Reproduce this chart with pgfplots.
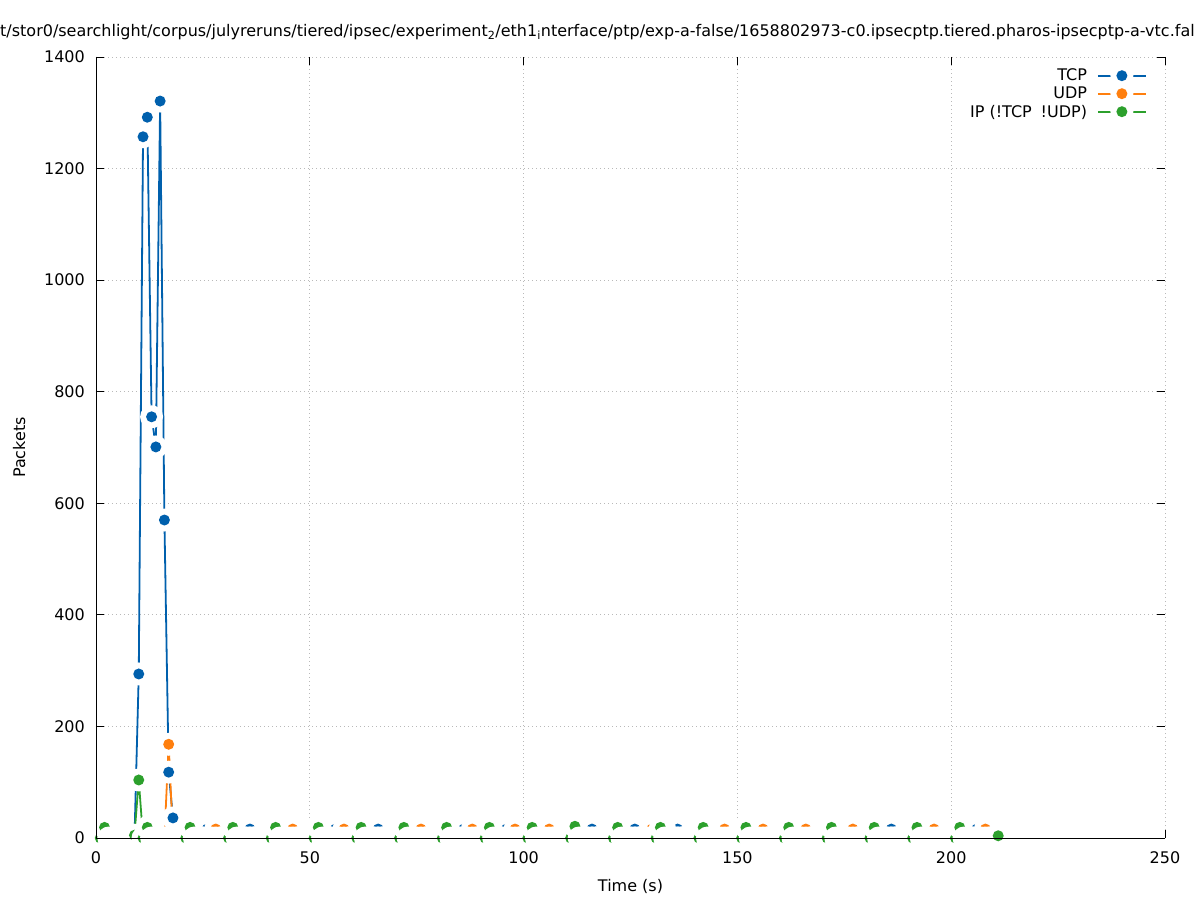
\documentclass[border=0pt]{standalone}
\usepackage{fontspec}
\setmainfont{DejaVu Sans}
\usepackage{pgfplots}
\usepackage{pgfplotstable}
\pgfplotsset{compat=1.18}
\definecolor{cTCP}{HTML}{0060AD}
\definecolor{cUDP}{HTML}{FF7F0E}
\definecolor{cIP}{HTML}{2CA02C}
\newcommand\fsz{\fontsize{16bp}{19bp}\selectfont}
\pgfdeclareplotmark{haloTCP}{\pgfsetfillcolor{white}\pgfpathcircle{\pgfpointorigin}{11.5bp}\pgfusepath{fill}\pgfsetfillcolor{cTCP}\pgfpathcircle{\pgfpointorigin}{5.5bp}\pgfusepath{fill}}
\pgfdeclareplotmark{haloUDP}{\pgfsetfillcolor{white}\pgfpathcircle{\pgfpointorigin}{11.5bp}\pgfusepath{fill}\pgfsetfillcolor{cUDP}\pgfpathcircle{\pgfpointorigin}{5.5bp}\pgfusepath{fill}}
\pgfdeclareplotmark{haloIP}{\pgfsetfillcolor{white}\pgfpathcircle{\pgfpointorigin}{11.5bp}\pgfusepath{fill}\pgfsetfillcolor{cIP}\pgfpathcircle{\pgfpointorigin}{5.5bp}\pgfusepath{fill}}
\pgfplotstableread[row sep=\\]{
t tcp udp ip\\
1 0 0 0\\ 2 0 0 19\\ 3 0 0 0\\ 4 0 0 0\\ 5 0 0 0\\ 6 0 0 0\\ 7 0 0 0\\ 8 0 0 0\\ 9 0 0 5\\ 10 294 0 104\\
11 1257 0 0\\ 12 1292 0 19\\ 13 755 0 0\\ 14 701 0 0\\ 15 1321 0 0\\ 16 570 0 0\\ 17 118 168 0\\ 18 36 0 0\\ 19 0 0 0\\ 20 0 0 0\\
21 0 0 0\\ 22 0 0 19\\ 23 0 0 0\\ 24 0 0 0\\ 25 0 0 0\\ 26 16 0 0\\ 27 0 0 0\\ 28 0 16 0\\ 29 0 0 0\\ 30 0 0 0\\
31 0 0 0\\ 32 0 0 19\\ 33 0 0 0\\ 34 0 0 0\\ 35 0 0 0\\ 36 16 0 0\\ 37 0 0 0\\ 38 0 0 0\\ 39 0 0 0\\ 40 0 0 0\\
41 0 0 0\\ 42 0 0 19\\ 43 0 0 0\\ 44 0 0 0\\ 45 0 0 0\\ 46 16 16 0\\ 47 0 0 0\\ 48 0 0 0\\ 49 0 0 0\\ 50 0 0 0\\
51 0 0 0\\ 52 0 0 19\\ 53 0 0 0\\ 54 0 0 0\\ 55 0 0 0\\ 56 16 0 0\\ 57 0 0 0\\ 58 0 16 0\\ 59 0 0 0\\ 60 0 0 0\\
61 0 0 0\\ 62 0 0 19\\ 63 0 0 0\\ 64 0 0 0\\ 65 0 0 0\\ 66 16 0 0\\ 67 0 0 0\\ 68 0 0 0\\ 69 0 0 0\\ 70 0 0 0\\
71 0 0 0\\ 72 0 0 19\\ 73 0 0 0\\ 74 0 0 0\\ 75 0 0 0\\ 76 16 16 0\\ 77 0 0 0\\ 78 0 0 0\\ 79 0 0 0\\ 80 0 0 0\\
81 0 0 0\\ 82 0 0 19\\ 83 0 0 0\\ 84 0 0 0\\ 85 0 0 0\\ 86 16 0 0\\ 87 0 0 0\\ 88 0 16 0\\ 89 0 0 0\\ 90 0 0 0\\
91 0 0 0\\ 92 0 0 19\\ 93 0 0 0\\ 94 0 0 0\\ 95 0 0 0\\ 96 16 0 0\\ 97 0 0 0\\ 98 0 16 0\\ 99 0 0 0\\ 100 0 0 0\\
101 0 0 0\\ 102 0 0 19\\ 103 0 0 0\\ 104 0 16 0\\ 105 0 0 0\\ 106 16 16 0\\ 107 0 0 0\\ 108 0 0 0\\ 109 0 0 0\\ 110 0 0 0\\
111 0 0 0\\ 112 0 0 21\\ 113 0 0 0\\ 114 0 0 0\\ 115 0 0 0\\ 116 16 0 0\\ 117 0 0 0\\ 118 0 0 0\\ 119 0 0 0\\ 120 0 0 0\\
121 0 0 0\\ 122 0 0 19\\ 123 0 0 0\\ 124 0 0 0\\ 125 0 0 0\\ 126 16 0 0\\ 127 0 0 0\\ 128 0 0 0\\ 129 0 0 0\\ 130 0 16 0\\
131 0 0 0\\ 132 0 0 19\\ 133 0 16 0\\ 134 0 0 0\\ 135 0 0 0\\ 136 16 0 0\\ 137 0 0 0\\ 138 0 0 0\\ 139 0 0 0\\ 140 0 0 0\\
141 0 0 0\\ 142 0 0 19\\ 143 0 0 0\\ 144 0 0 0\\ 145 0 0 0\\ 146 16 0 0\\ 147 0 16 0\\ 148 0 0 0\\ 149 0 0 0\\ 150 0 0 0\\
151 0 0 0\\ 152 0 0 19\\ 153 0 0 0\\ 154 0 0 0\\ 155 0 0 0\\ 156 16 16 0\\ 157 0 0 0\\ 158 0 0 0\\ 159 0 0 0\\ 160 0 0 0\\
161 0 0 0\\ 162 0 0 19\\ 163 0 0 0\\ 164 0 16 0\\ 165 0 0 0\\ 166 16 16 0\\ 167 0 0 0\\ 168 0 0 0\\ 169 0 0 0\\ 170 0 0 0\\
171 0 0 0\\ 172 0 0 19\\ 173 0 0 0\\ 174 0 0 0\\ 175 0 0 0\\ 176 16 0 0\\ 177 0 16 0\\ 178 0 0 0\\ 179 0 0 0\\ 180 0 0 0\\
181 0 0 0\\ 182 0 0 19\\ 183 0 0 0\\ 184 0 0 0\\ 185 0 0 0\\ 186 16 0 0\\ 187 0 0 0\\ 188 0 0 0\\ 189 0 0 0\\ 190 0 0 0\\
191 0 0 0\\ 192 0 0 19\\ 193 0 0 0\\ 194 0 16 0\\ 195 0 0 0\\ 196 16 16 0\\ 197 0 0 0\\ 198 0 0 0\\ 199 0 0 0\\ 200 0 0 0\\
201 0 0 0\\ 202 0 0 19\\ 203 0 0 0\\ 204 0 0 0\\ 205 0 0 0\\ 206 16 0 0\\ 207 0 0 0\\ 208 0 16 0\\ 209 0 0 0\\ 210 0 0 0\\
211 0 0 4\\
}\data
\begin{document}
\begin{tikzpicture}
\useasboundingbox (-96bp,-62bp) rectangle (1101bp,838bp);
\begin{axis}[
  at={(0,0)}, anchor=south west,
  scale only axis, width=1069bp, height=781bp,
  xmin=0, xmax=250, ymin=0, ymax=1400,
  xtick={0,50,...,250}, ytick={0,200,...,1400},
  tick align=inside, xtick pos=both, ytick pos=both,
  major tick length=8bp, tick style={black, line width=0.9bp},
  axis line style={draw=none},
  grid=major, grid style={gray!55, line width=0.8bp, dash pattern=on 1bp off 3bp},
  /pgf/number format/assume math mode=true,
  /pgf/number format/1000 sep={}, scaled ticks=false,
  tick label style={font=\fsz},
  xticklabel style={anchor=north, inner sep=0pt, yshift=-13bp},
  yticklabel style={anchor=east, inner sep=0pt, xshift=-11bp},
  xlabel={Time (s)}, ylabel={Packets},
  label style={font=\fsz},
  xlabel style={at={(axis description cs:0.5,-0.0691)}, anchor=base},
  ylabel style={at={(axis description cs:-0.0664,0.5)}, anchor=base},
  legend cell align=right, legend plot pos=right,
  legend style={at={(1,1)}, anchor=north east, xshift=-18bp, yshift=-7bp,
    draw=none, fill=none, inner sep=0pt, row sep=-5bp, column sep=8bp,
    font=\fsz},
  legend image code/.code={\draw[mark repeat=2,mark phase=2] plot coordinates {(0bp,0bp)(24bp,0bp)(48bp,0bp)};},
]
\addplot[cTCP, line width=1.8bp, mark=haloTCP] table[x=t,y=tcp]{\data};
\addlegendentry{TCP}
\addplot[cUDP, line width=1.8bp, mark=haloUDP] table[x=t,y=udp]{\data};
\addlegendentry{UDP}
\addplot[cIP, line width=1.8bp, mark=haloIP] table[x=t,y=ip]{\data};
\addlegendentry{IP (!TCP\hspace{0.55em}!UDP)}
\end{axis}
\draw[black, line width=1bp] (0,781bp) -- (0,0) -- (1069bp,0);
\node[anchor=base west, inner sep=0pt, font=\fsz] at (-96bp,801bp)
  {\llap{n}t/stor0/searchlight/corpus/julyreruns/tiered/ipsec/experiment\textsubscript{2}/eth1\textsubscript{i}nterface/ptp/exp-a-false/1658802973-c0.ipsecptp.tiered.pharos-ipsecptp-a-vtc.fal};
\end{tikzpicture}
\end{document}
